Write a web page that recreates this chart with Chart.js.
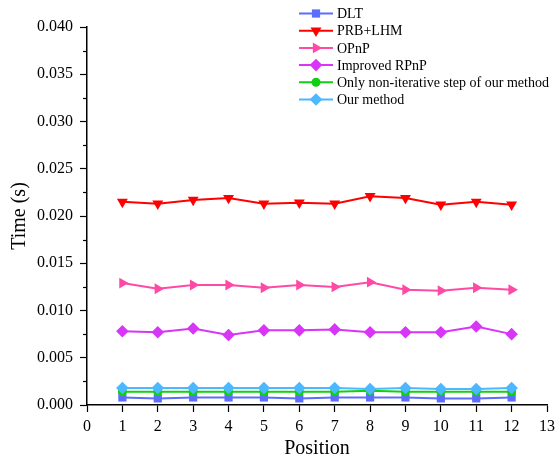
<!DOCTYPE html>
<html>
<head>
<meta charset="utf-8">
<script src="https://cdn.jsdelivr.net/npm/chart.js@4/dist/chart.umd.min.js"></script>
<style>
  html, body { margin: 0; padding: 0; background: #fff; }
  #wrap { width: 560px; height: 463px; }
</style>
</head>
<body>
<div id="wrap"><canvas id="timeChart" width="560" height="463"></canvas></div>
<script>
const positions = [1, 2, 3, 4, 5, 6, 7, 8, 9, 10, 11, 12];

const dltTime      = [0.0008, 0.0007, 0.0008, 0.0008, 0.0008, 0.0007, 0.0008, 0.0008, 0.0008, 0.0007, 0.0007, 0.0008];
const prbLhmTime   = [0.0215, 0.0213, 0.0217, 0.0219, 0.0213, 0.0214, 0.0213, 0.0221, 0.0219, 0.0212, 0.0215, 0.0212];
const opnpTime     = [0.0129, 0.0123, 0.0127, 0.0127, 0.0124, 0.0127, 0.0125, 0.0130, 0.0122, 0.0121, 0.0124, 0.0122];
const rpnpTime     = [0.0078, 0.0077, 0.0081, 0.0074, 0.0079, 0.0079, 0.0080, 0.0077, 0.0077, 0.0077, 0.0083, 0.0075];
const nonIterTime  = [0.0014, 0.0014, 0.0014, 0.0014, 0.0014, 0.0014, 0.0014, 0.0015, 0.0014, 0.0014, 0.0014, 0.0014];
const ourTime      = [0.0018, 0.0018, 0.0018, 0.0018, 0.0018, 0.0018, 0.0018, 0.0017, 0.0018, 0.0017, 0.0017, 0.0018];

const seriesNames = ['DLT', 'PRB+LHM', 'OPnP', 'Improved RPnP', 'Only non-iterative step of our method', 'Our method'];
const yTicks = [0, 0.005, 0.010, 0.015, 0.020, 0.025, 0.030, 0.035, 0.040];
const xTicks = [0, 1, 2, 3, 4, 5, 6, 7, 8, 9, 10, 11, 12, 13];

const SERIF = "'Liberation Serif', 'Times New Roman', serif";

function makeSet(i, values, color, style, rotation, radius) {
    return {
        label: seriesNames[i],
        data: positions.map((p, k) => ({ x: p, y: values[k] })),
        borderColor: color,
        backgroundColor: color,
        borderWidth: 2,
        pointStyle: style,
        rotation: rotation,
        pointRadius: radius,
        pointBorderWidth: 0,
        pointHoverRadius: radius,
        tension: 0,
        order: 6 - i
    };
}

const datasets = [
    makeSet(0, dltTime,     '#5c6cff', 'rect',     0,   5.8),
    makeSet(1, prbLhmTime,  '#ff0000', 'triangle', 180, 6.3),
    makeSet(2, opnpTime,    '#ff4aa5', 'triangle', 90,  6.3),
    makeSet(3, rpnpTime,    '#d835f8', 'rectRot',  0,   6.3),
    makeSet(4, nonIterTime, '#10d010', 'circle',   0,   4.5),
    makeSet(5, ourTime,     '#4cb8ff', 'rectRot',  0,   6.3)
];

// legend drawn as line + marker, like the plotting program's style
const lineLegend = {
    id: 'lineLegend',
    afterDraw(chart) {
        const ctx = chart.ctx;
        const x0 = 299, x1 = 333, textX = 337;
        ctx.save();
        ctx.font = '14px ' + SERIF;
        ctx.textBaseline = 'middle';
        chart.data.datasets.forEach((ds, i) => {
            const y = 13.5 + i * 17.2;
            ctx.strokeStyle = ds.borderColor;
            ctx.lineWidth = 2;
            ctx.beginPath();
            ctx.moveTo(x0, y);
            ctx.lineTo(x1, y);
            ctx.stroke();
            ctx.fillStyle = ds.backgroundColor;
            Chart.helpers.drawPoint(ctx, {
                pointStyle: ds.pointStyle,
                rotation: ds.rotation,
                radius: ds.pointRadius,
                borderWidth: 0
            }, (x0 + x1) / 2, y);
            ctx.fillStyle = '#000';
            ctx.fillText(ds.label, textX, y + 1);
        });
        ctx.restore();
    }
};

// minor ticks halfway between the major y ticks
const minorTicks = {
    id: 'minorTicks',
    afterDraw(chart) {
        const y = chart.scales.y;
        const ctx = chart.ctx;
        const left = chart.chartArea.left;
        ctx.save();
        ctx.strokeStyle = '#000';
        ctx.lineWidth = 1.2;
        for (let k = 0; k < yTicks.length - 1; k++) {
            const py = Math.round(y.getPixelForValue((yTicks[k] + yTicks[k + 1]) / 2)) + 0.5;
            ctx.beginPath();
            ctx.moveTo(left - 4, py);
            ctx.lineTo(left, py);
            ctx.stroke();
        }
        ctx.restore();
    }
};

new Chart(document.getElementById('timeChart'), {
    type: 'line',
    data: { datasets: datasets },
    options: {
        responsive: false,
        animation: false,
        layout: { padding: { top: 27, right: 8, left: 0, bottom: 0 } },
        plugins: {
            legend: { display: false },
            tooltip: { enabled: false }
        },
        scales: {
            x: {
                type: 'linear',
                min: 0,
                max: 13,
                afterBuildTicks: scale => { scale.ticks = xTicks.map(v => ({ value: v })); },
                afterFit: scale => { scale.height = 58; },
                grid: { drawOnChartArea: false, drawTicks: true, tickLength: 7, tickColor: '#000', tickWidth: 1.2 },
                border: { display: true, color: '#000', width: 1.5 },
                ticks: {
                    color: '#000',
                    padding: 5,
                    maxRotation: 0,
                    autoSkip: false,
                    font: { family: SERIF, size: 16 }
                },
                title: {
                    display: true,
                    text: 'Position',
                    color: '#000',
                    padding: { top: 0, bottom: 2 },
                    font: { family: SERIF, size: 20 }
                }
            },
            y: {
                min: 0,
                max: 0.04,
                afterBuildTicks: scale => { scale.ticks = yTicks.map(v => ({ value: v })); },
                afterFit: scale => { scale.width = 87; },
                grid: { drawOnChartArea: false, drawTicks: true, tickLength: 7, tickColor: '#000', tickWidth: 1.2 },
                border: { display: true, color: '#000', width: 1.5 },
                ticks: {
                    color: '#000',
                    padding: 7,
                    autoSkip: false,
                    font: { family: SERIF, size: 16 },
                    callback: v => v.toFixed(3)
                },
                title: {
                    display: true,
                    text: 'Time (s)',
                    color: '#000',
                    padding: { top: 8, bottom: 0 },
                    font: { family: SERIF, size: 20 }
                }
            }
        }
    },
    plugins: [lineLegend, minorTicks]
});
</script>
</body>
</html>
